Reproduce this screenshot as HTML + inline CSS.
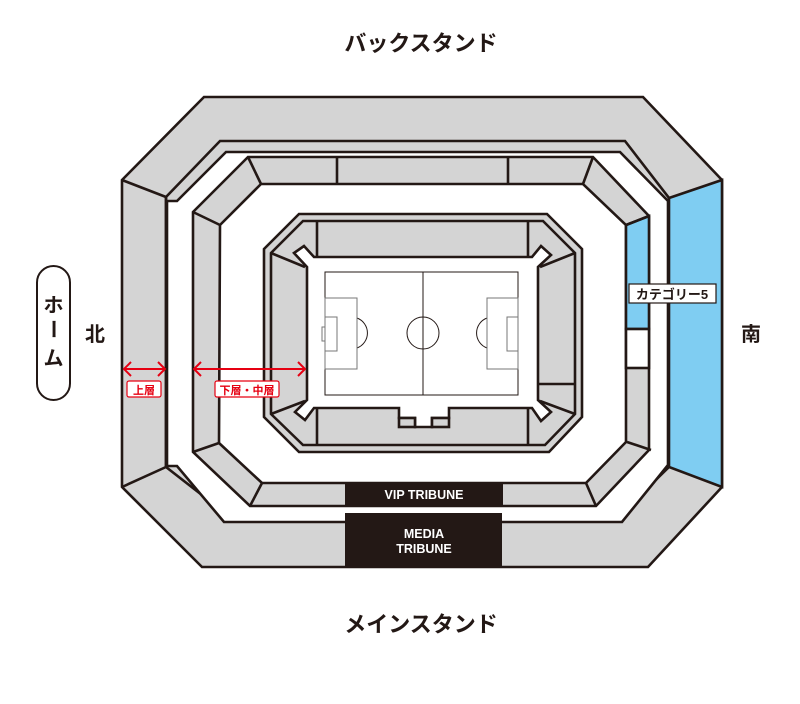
<!DOCTYPE html>
<html><head><meta charset="utf-8"><style>
html,body{margin:0;padding:0;background:#fff;}
svg{display:block;}
text{font-family:"Liberation Sans","Noto Sans CJK JP",sans-serif;font-weight:bold;}
</style></head><body>
<svg width="800" height="704" viewBox="0 0 800 704" xmlns="http://www.w3.org/2000/svg">
<g stroke="#231815" stroke-width="2.6" stroke-linejoin="miter">
<!-- upper tier -->
<polygon points="204,97 643,97 722,180 722,487 648,567 202,567 122,487 122,180" fill="#d4d4d4"/>
<polygon points="220,141 625,141 669,198 669,467 622,513 225,513 166,467 166,197" fill="#d4d4d4"/>
<polygon points="226,152 620,152 668,201 668,465 622,522 224,522 177,466 167,466 167,201 177,201" fill="#fff"/>
<polygon points="669,198 722,180 722,487 669,467" fill="#7fcdf2"/>
<line x1="122" y1="180" x2="166" y2="197"/>
<line x1="122" y1="487" x2="166" y2="467"/>
<line x1="166" y1="197" x2="166" y2="467"/>
<!-- lower/middle tier -->
<polygon points="248,157 593,157 649,216 649,450 596,506 250,506 193,452 193,212" fill="#d4d4d4"/>
<polygon points="261,184 583,184 626,225 626,442 586,483 262,483 219,443 220,225" fill="#fff"/>
<polygon points="626,225 649,216 649,329 626,329" fill="#7fcdf2"/>
<rect x="626" y="329" width="23" height="39" fill="#fff"/>
<line x1="248" y1="157" x2="261" y2="184"/>
<line x1="193" y1="212" x2="220" y2="225"/>
<line x1="593" y1="157" x2="583" y2="184"/>
<line x1="649" y1="216" x2="626" y2="225"/>
<line x1="193" y1="452" x2="219" y2="443"/>
<line x1="250" y1="506" x2="262" y2="483"/>
<line x1="651" y1="450" x2="627" y2="442"/>
<line x1="596" y1="506" x2="586" y2="483"/>
<line x1="337" y1="157" x2="337" y2="184"/>
<line x1="508" y1="157" x2="508" y2="184"/>
<!-- inner bowl -->
<polygon points="299,214 547,214 582,249 582,417 549,452 299,452 264,417 264,249" fill="#d4d4d4"/>
<polygon points="303,221 543,221 575,253 575,414 545,445 303,445 271,414 271,253" fill="#d4d4d4"/>
<polygon points="307,267 294,253 304,246 314,257 532,257 541,246 551,255 538,267 538,400 551,412 541,421 532,408 449,408 449,418 432,418 432,427 415,427 415,418 399,418 399,408 314,408 305,420 295,412 307,400" fill="#fff"/>
<rect x="399" y="418" width="16" height="9" fill="#d4d4d4"/>
<rect x="432" y="418" width="17" height="9" fill="#d4d4d4"/>
<line x1="317" y1="221" x2="317" y2="257"/>
<line x1="528" y1="221" x2="528" y2="257"/>
<line x1="317" y1="408" x2="317" y2="445"/>
<line x1="528" y1="408" x2="528" y2="445"/>
<line x1="271" y1="253" x2="305" y2="267"/>
<line x1="575" y1="253" x2="540" y2="267"/>
<line x1="271" y1="414" x2="305" y2="401"/>
<line x1="575" y1="414" x2="540" y2="401"/>
<line x1="538" y1="384" x2="575" y2="384"/>
</g>
<!-- field -->
<g stroke="#231815" stroke-width="1" fill="none">
<rect x="325" y="272" width="193" height="123" fill="#fff"/>
<line x1="423" y1="272" x2="423" y2="395"/>
<circle cx="423" cy="333" r="16"/>
<path d="M357,318 A16,16 0 0 1 357,348"/>
<path d="M487,318 A16,16 0 0 0 487,348"/>
<rect x="325" y="298" width="32" height="71" stroke="#777"/>
<rect x="325" y="317" width="12" height="34" stroke="#777"/>
<rect x="322" y="327" width="3" height="14" stroke="#777"/>
<rect x="487" y="298" width="31" height="71" stroke="#777"/>
<rect x="507" y="317" width="11" height="34" stroke="#777"/>
</g>
<!-- tribunes -->
<rect x="345" y="482" width="158" height="24" fill="#231815"/>
<rect x="345" y="513" width="157" height="54" fill="#231815"/>
<text x="424" y="499" fill="#fff" font-size="12.5" text-anchor="middle">VIP TRIBUNE</text>
<text x="424" y="538" fill="#fff" font-size="12.5" text-anchor="middle">MEDIA</text>
<text x="424" y="553" fill="#fff" font-size="12.5" text-anchor="middle">TRIBUNE</text>
<!-- category label -->
<rect x="629" y="284" width="87" height="19" fill="#fff" stroke="#231815" stroke-width="1.2"/>
<text x="672" y="299" font-size="13" text-anchor="middle" fill="#231815">カテゴリー5</text>
<!-- arrows -->
<g stroke="#e60012" stroke-width="2" fill="none">
<line x1="125" y1="369" x2="164" y2="369"/>
<polyline points="131,362 124,369 131,376"/>
<polyline points="158,362 165,369 158,376"/>
<line x1="194" y1="369" x2="305" y2="369"/>
<polyline points="201,362 194,369 201,376"/>
<polyline points="298,362 305,369 298,376"/>
</g>
<rect x="127" y="381" width="34" height="16" rx="2" fill="#fff" stroke="#e60012" stroke-width="1.2"/>
<text x="144" y="394" font-size="11" fill="#e60012" text-anchor="middle">上層</text>
<rect x="215" y="381" width="64" height="16" rx="2" fill="#fff" stroke="#e60012" stroke-width="1.2"/>
<text x="247" y="394" font-size="11" fill="#e60012" text-anchor="middle">下層・中層</text>
<!-- titles -->
<text x="421" y="51" font-size="22" text-anchor="middle" fill="#231815">バックスタンド</text>
<text x="421" y="632" font-size="22" text-anchor="middle" fill="#231815">メインスタンド</text>
<text x="95" y="341" font-size="20" text-anchor="middle" fill="#231815">北</text>
<text x="751" y="341" font-size="20" text-anchor="middle" fill="#231815">南</text>
<rect x="37" y="266" width="33" height="134" rx="16.5" fill="#fff" stroke="#231815" stroke-width="2"/>
<text x="53.5" y="312" font-size="20" text-anchor="middle" fill="#231815">ホ</text>
<text x="53.5" y="336" font-size="20" text-anchor="middle" fill="#231815" transform="rotate(90 53.5 329)">ー</text>
<text x="53.5" y="365" font-size="20" text-anchor="middle" fill="#231815">ム</text>
</svg>
</body></html>
